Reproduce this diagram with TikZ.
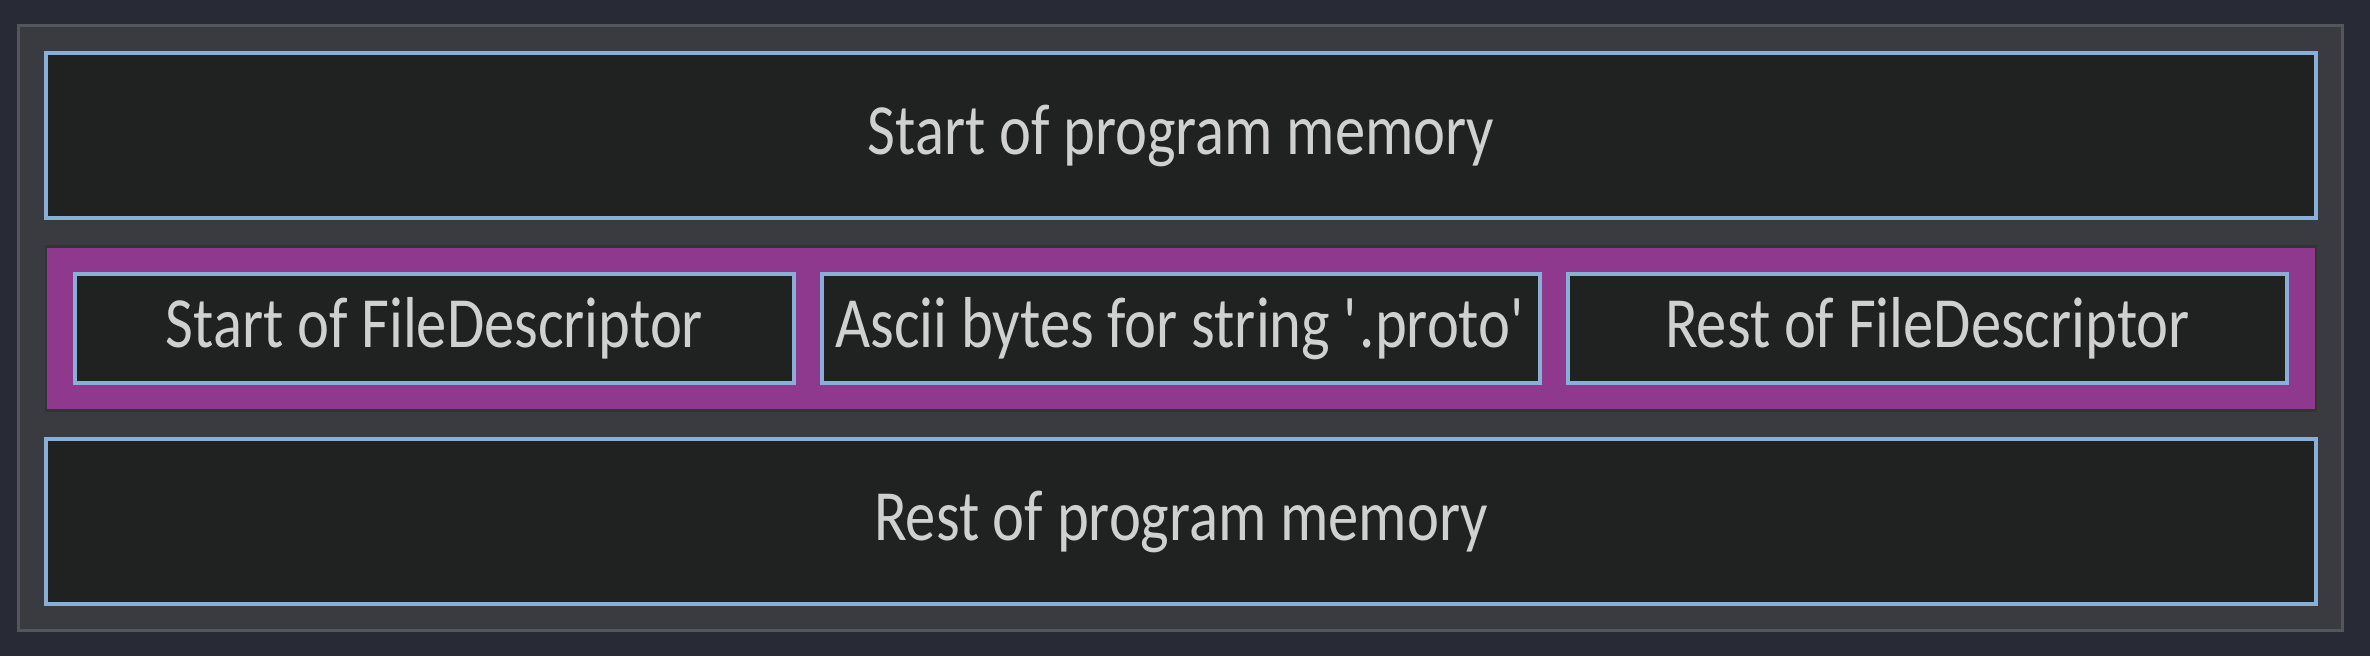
\documentclass[tikz,border=0pt]{standalone}
\usepackage{fontspec}
\setmainfont[FakeStretch=0.84]{Carlito}
\usetikzlibrary{positioning}

\definecolor{nachtblau}{RGB}{40,42,54}
\definecolor{rahmengrau}{RGB}{85,86,92}
\definecolor{flaeche}{RGB}{58,59,64}
\definecolor{kasten}{RGB}{32,34,33}
\definecolor{kantenblau}{RGB}{138,174,214}
\definecolor{lila}{RGB}{142,57,142}
\definecolor{lilarand}{RGB}{51,51,53}
\definecolor{schrift}{RGB}{208,208,208}

\begin{document}
\begin{tikzpicture}[
	x=0.01cm,y=-0.01cm,
	node distance=0.285cm,
	speicher/.style={draw=kantenblau,fill=kasten,line width=0.04cm,outer sep=0pt,
		inner sep=0pt,text=schrift,font=\fontsize{20.5pt}{24pt}\selectfont,
		minimum width=22.68cm,minimum height=1.65cm},
	feld/.style={speicher,minimum width=7.18cm,minimum height=1.09cm},
	gruppe/.style={draw=lilarand,fill=lila,line width=0.025cm,outer sep=0pt,
		minimum width=22.69cm,minimum height=1.64cm}
]

\fill[nachtblau] (0,0) rectangle (2370,656);
\draw[rahmengrau,fill=flaeche,line width=0.03cm] (18.5,25.5) rectangle (2342.5,630.5);

\node[speicher] (start) at (1181,135.5) {Start of program memory};
\node[gruppe,below=of start] (datei) {};
\node[speicher,below=of datei] (rest) {Rest of program memory};

\node[feld] (ascii) at (datei.center) {Ascii bytes for string \textquotesingle.proto\textquotesingle};
\node[feld,left=0.28cm of ascii] (fdanfang) {Start of FileDescriptor};
\node[feld,right=0.28cm of ascii] (fdrest) {Rest of FileDescriptor};

\end{tikzpicture}
\end{document}
